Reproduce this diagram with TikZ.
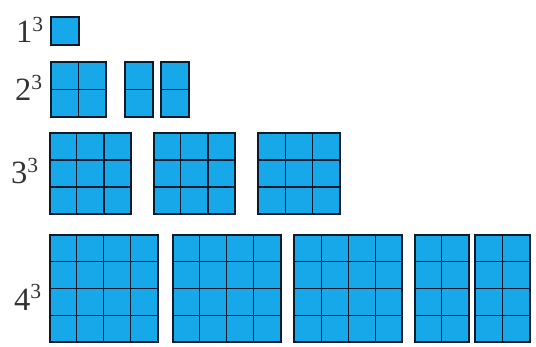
\documentclass[tikz,border=0pt]{standalone}
\usepackage{fontspec}
\setmainfont{Liberation Serif}
\definecolor{cube}{HTML}{16A8E8}
\definecolor{edge}{HTML}{0B1B2B}
\tikzset{
  outer/.style={draw=edge,line width=2pt,fill=cube},
  inner/.style={draw=edge,line width=1.2pt},
  lbl/.style={anchor=base west,inner sep=0pt,text=black!80}
}
\newcommand{\cubeblock}[6]{% x y cols rows cellw cellh
  \fill[cube] (#1,#2) rectangle ++(#3*#5,#4*#6);
  \foreach \i in {1,...,#3}{\ifnum\i<#3 \draw[inner] (#1+\i*#5,#2) -- ++(0,#4*#6);\fi}
  \foreach \j in {1,...,#4}{\ifnum\j<#4 \draw[inner] (#1,#2+\j*#6) -- ++(#3*#5,0);\fi}
  \draw[outer,fill=none] (#1,#2) rectangle ++(#3*#5,#4*#6);
}
\newcommand{\pw}[1]{{\fontsize{32.5}{32}\selectfont #1}\raisebox{11.5pt}{\fontsize{21.5}{21}\selectfont 3}}
\begin{document}
\begin{tikzpicture}[x=1pt,y=-1pt]
\useasboundingbox (0,0) rectangle (536,346);
% row 1
\cubeblock{51}{16.5}{1}{1}{27.5}{28}
% row 2
\cubeblock{51}{62}{2}{2}{27.5}{27.5}
\cubeblock{125}{62}{1}{2}{28}{27.5}
\cubeblock{160.5}{62}{1}{2}{28}{27.5}
% row 3
\cubeblock{49.5}{133}{3}{3}{27.2}{27}
\cubeblock{153.5}{133}{3}{3}{27.2}{27}
\cubeblock{258}{133}{3}{3}{27.2}{27}
% row 4
\cubeblock{49.5}{235}{4}{4}{27.1}{26.7}
\cubeblock{172.5}{235}{4}{4}{27}{26.7}
\cubeblock{294}{235}{4}{4}{27.1}{26.7}
\cubeblock{414.5}{235}{2}{4}{27.3}{26.7}
\cubeblock{475}{235}{2}{4}{27.7}{26.7}
% labels
\node[lbl] (l1) at (16,42.5) {\pw{1}};
\node[lbl] (l2) at (15,100.5) {\pw{2}};
\node[lbl] (l3) at (11,183.5) {\pw{3}};
\node[lbl] (l4) at (14,310) {\pw{4}};
\end{tikzpicture}
\end{document}
